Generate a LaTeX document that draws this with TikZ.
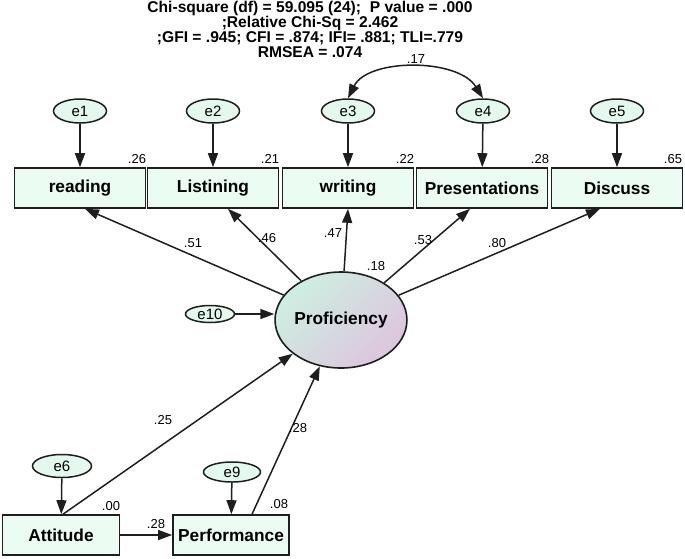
\documentclass[tikz,border=0pt]{standalone}
\usepackage{fontspec}
\setmainfont{Liberation Sans}
\usetikzlibrary{arrows.meta,shapes.geometric}
\definecolor{mint}{HTML}{EBFDF2}
\definecolor{errfill}{HTML}{E4F9EE}
\definecolor{profA}{HTML}{CDEFE1}
\definecolor{profB}{HTML}{DDC5DE}
\definecolor{edge}{HTML}{1E1E1E}
\begin{document}
\begin{tikzpicture}[x=1pt,y=-1pt,
  >={Triangle[length=14pt,width=10pt]},
  box/.style={draw=edge,line width=1.6pt,fill=mint,minimum width=131pt,minimum height=40pt,
    inner sep=0pt,font=\fontsize{17.3}{19}\selectfont\bfseries},
  err/.style={ellipse,draw=edge,line width=1.5pt,fill=errfill,minimum width=53pt,minimum height=24pt,
    inner sep=0pt,font=\fontsize{15}{17}\selectfont},
  num/.style={inner sep=0pt,font=\fontsize{13}{15}\selectfont},
  conn/.style={draw=edge,line width=1.5pt,->}
]
\useasboundingbox (0,0) rectangle (685,558);

% title
\node[align=center,inner sep=0pt,font=\fontsize{15.6}{15}\selectfont\bfseries] (title) at (310,29)
  {Chi-square (df) = 59.095 (24);~~P value = .000\\;Relative Chi-Sq = 2.462\\;GFI = .945; CFI = .874; IFI= .881; TLI=.779\\RMSEA = .074};

% observed boxes
\node[box] (reading) at (80,188) {reading};
\node[box] (list) at (213,188) {Listining};
\node[box] (writing) at (348,188) {writing};
\node[box] (pres) at (482,188) {Presentations};
\node[box] (disc) at (617,188) {Discuss};

% errors
\node[err] (e1) at (80,111) {e1};
\node[err] (e2) at (213,111) {e2};
\node[err] (e3) at (348,111) {e3};
\node[err] (e4) at (483,111) {e4};
\node[err] (e5) at (617,111) {e5};

% latent
\node[ellipse,draw=edge,line width=1.6pt,top color=profA,bottom color=profB,shading angle=45,
  minimum width=129pt,minimum height=96pt,inner sep=0pt,font=\fontsize{17.3}{19}\selectfont\bfseries]
  (prof) at (341,320) {Proficiency};
\node[err,minimum width=49pt,minimum height=17pt] (e10) at (210,314) {e10};

% bottom boxes
\node[box,minimum width=117pt] (att) at (61,535) {Attitude};
\node[box,minimum width=116pt] (perf) at (231,535) {Performance};
\node[err,minimum width=59pt,minimum height=23pt] (e6) at (62,466) {e6};
\node[err,minimum width=57pt,minimum height=20pt] (e9) at (232,472) {e9};

% error arrows
\foreach \e/\b in {e1/reading,e2/list,e3/writing,e4/pres,e5/disc,e6/att,e9/perf}
  \draw[conn] (\e) -- (\b);
\draw[conn] (e10.east) -- (e10.east -| prof.west);

% covariance
\draw[conn,<->] (e3.north) .. controls (368,58) and (458,58) .. (e4.north);

% loadings
\draw[conn] (prof) -- ([xshift=5pt]reading.south);
\draw[conn] (prof) -- ([xshift=15pt]list.south);
\draw[conn] (prof) -- (writing.south);
\draw[conn] (prof) -- ([xshift=-12pt]pres.south);
\draw[conn] (prof) -- ([xshift=-17pt]disc.south);

% structural
\coordinate (attTop) at ([xshift=2pt]att.north);
\coordinate (perfTop) at ([xshift=21pt]perf.north);
\draw[conn] (attTop) -- (prof);
\draw[conn] (perfTop) -- (prof);
\draw[conn] (att.east) -- (perf.west);

% numbers
\node[num] at (137,159) {.26};
\node[num] at (270,159) {.21};
\node[num] at (405,159) {.22};
\node[num] at (540,159) {.28};
\node[num] at (673,159) {.65};
\node[num] at (416,59) {.17};
\node[num] at (193,243) {.51};
\node[num] at (267,238) {.46};
\node[num] at (333,233) {.47};
\node[num] at (423,240) {.53};
\node[num] at (497,243) {.80};
\node[num] at (376,266) {.18};
\node[num] at (163,420) {.25};
\node[num] at (298,428) {.28};
\node[num] at (111,506) {.00};
\node[num] at (279,504) {.08};
\node[num] at (156,524) {.28};
\end{tikzpicture}
\end{document}
